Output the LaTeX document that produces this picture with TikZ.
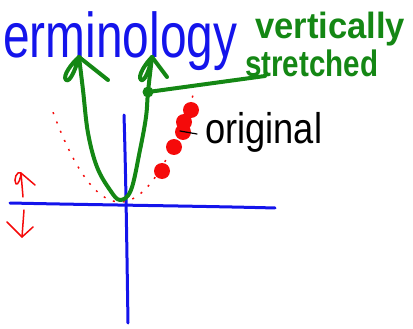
\documentclass[tikz,border=0pt]{standalone}
\usepackage{graphicx}
\usepackage{fontspec}
\setmainfont{Liberation Sans}
\definecolor{pblue}{RGB}{20,20,235}
\definecolor{pgreen}{RGB}{20,135,20}
\definecolor{pred}{RGB}{245,10,10}
\tikzset{
  axis/.style={pblue, line width=3pt, line cap=round},
  gstroke/.style={pgreen, line width=4pt, line cap=round, line join=round},
  rstroke/.style={pred, line width=1.5pt, line cap=round, line join=round},
  reddot/.style={circle, fill=pred, minimum size=16pt, inner sep=0pt},
  txt/.style={inner sep=0pt, anchor=north west},
}
\begin{document}
\begin{tikzpicture}[x=1pt,y=-1pt]
\useasboundingbox (0,0) rectangle (413,329);
% title
\node[txt, text=pblue] (title) at (3,11) {\resizebox*{234pt}{59pt}{erminology}};
\node[txt, text=pgreen] (vert) at (255,12) {\resizebox*{150pt}{34pt}{\bfseries vertically}};
\node[txt, text=pgreen] (str) at (245,50) {\resizebox*{133pt}{27pt}{\bfseries stretched}};
\node[txt, text=black] (orig) at (205,112) {\resizebox*{117pt}{40pt}{original}};
% axes
\draw[axis] (10,203) .. controls (100,205) and (200,206) .. (275,208);
\draw[axis] (124,115) .. controls (126,180) and (127,260) .. (128,323);
% red dotted original parabola
\draw[pred, line width=1.5pt, dash pattern=on 2pt off 8pt]
  plot[domain=53:193, samples=60] (\x, {202-0.02*(\x-120)^2});
% red dots
\node[reddot] (d1) at (191,110) {};
\node[reddot] (d2) at (184,122) {};
\node[reddot] (d3) at (183,132) {};
\node[reddot] (d4) at (174,147) {};
\node[reddot] (d5) at (162,171) {};
% pointer to original
\draw[black, line width=1.2pt, line cap=round] (180,131) -- (197,134);
% green stretched parabola
\coordinate (ltip) at (79,57);
\coordinate (rtip) at (152,57);
\coordinate (gdot) at (148,92);
\coordinate (lineend) at (265,76);
\draw[gstroke] plot[smooth, tension=0.6] coordinates {(79,57) (83,90) (88,133) (97,167) (110,190) (120,200) (131,190) (140,150) (146,117) (148,92) (152,57)};
% left arrowhead
\draw[gstroke] (ltip) .. controls (72,63) and (62,76) .. (66,80) .. controls (70,83) and (76,68) .. (ltip) -- (108,80);
% right arrowhead
\draw[gstroke] (rtip) .. controls (146,63) and (137,76) .. (141,80) .. controls (145,82) and (150,68) .. (rtip) -- (167,77);
% dot and line to label
\fill[pgreen] (gdot) circle (5.5);
\draw[gstroke] (gdot) -- (lineend);
% red up/down arrows
\draw[rstroke] (23,197) -- (21,173) .. controls (17,170) and (13,180) .. (16,184) .. controls (18,186) and (21,177) .. (21,173) -- (35,185);
\draw[rstroke] (24,210) -- (22,237);
\draw[rstroke] (7,222) -- (22,237) -- (33,227);
\end{tikzpicture}
\end{document}
